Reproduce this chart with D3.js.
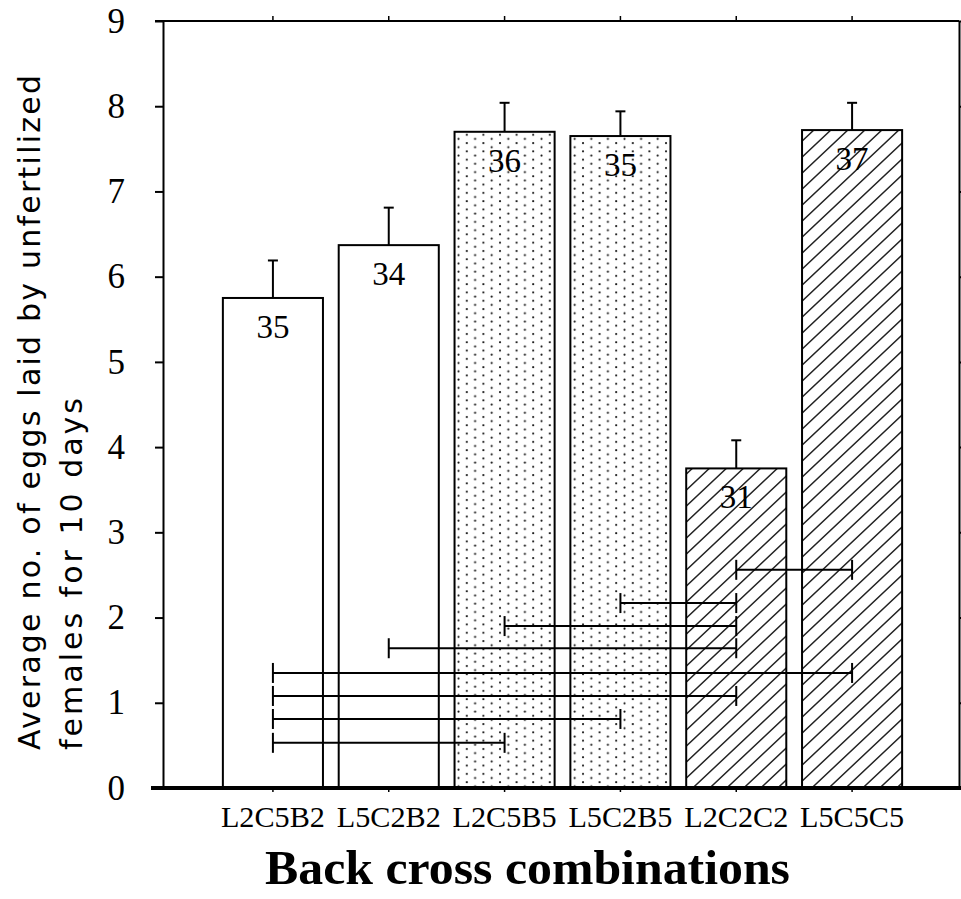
<!DOCTYPE html>
<html>
<head>
<meta charset="utf-8">
<script src="https://cdn.jsdelivr.net/npm/d3@7"></script>
<style>
  body { margin: 0; background: #fff; }
  svg { display: block; }
</style>
</head>
<body>
<div id="chart"></div>
<script>
// data
const categories = ["L2C5B2", "L5C2B2", "L2C5B5", "L5C2B5", "L2C2C2", "L5C5C5"];
const means = [5.75, 6.37, 7.70, 7.65, 3.75, 7.72];
const stdErr = [0.44, 0.44, 0.34, 0.29, 0.33, 0.32];
const sampleSizes = [35, 34, 36, 35, 31, 37];
const yTicks = [0, 1, 2, 3, 4, 5, 6, 7, 8, 9];

// comparison lines drawn at the bottom of the plot
const pairFrom = ["L2C2C2", "L5C2B5", "L2C5B5", "L5C2B2", "L2C5B2", "L2C5B2", "L2C5B2", "L2C5B2"];
const pairTo   = ["L5C5C5", "L2C2C2", "L2C2C2", "L2C2C2", "L5C5C5", "L2C2C2", "L5C2B5", "L2C5B5"];
const pairLevel = [2.56, 2.17, 1.90, 1.64, 1.35, 1.08, 0.81, 0.53];

const w = 961, h = 899;
const plotTop = 21, plotBottom = 788, plotLeft = 163, plotRight = 959;

// which fill each bar gets
const fillFor = {
    L2C5B2: "#fff", L5C2B2: "#fff",
    L2C5B5: "url(#dots)", L5C2B5: "url(#dots)",
    L2C2C2: "url(#hatch)", L5C5C5: "url(#hatch)"
};

const svg = d3.select("#chart").append("svg")
    .attr("width", w)
    .attr("height", h);

const defs = svg.append("defs");
const dots = defs.append("pattern")
    .attr("id", "dots")
    .attr("patternUnits", "userSpaceOnUse")
    .attr("width", 16.6)
    .attr("height", 8.3);
dots.append("rect").attr("width", 16.6).attr("height", 8.3).attr("fill", "#fff");
dots.append("circle").attr("cx", 2).attr("cy", 2).attr("r", 1.05).attr("fill", "#111");
dots.append("circle").attr("cx", 10.3).attr("cy", 6.15).attr("r", 1.05).attr("fill", "#111");

const hatch = defs.append("pattern")
    .attr("id", "hatch")
    .attr("patternUnits", "userSpaceOnUse")
    .attr("width", 17)
    .attr("height", 16);
hatch.append("rect").attr("width", 17).attr("height", 16).attr("fill", "#fff");
hatch.append("path")
    .attr("d", "M0,16 L17,0 M-2,2 L2,-2 M15,18 L19,14")
    .attr("stroke", "#222")
    .attr("stroke-width", 1.5);

const x = d3.scaleBand()
    .domain(categories)
    .range([215, 910])
    .paddingInner(0.136)
    .paddingOuter(0.068);

const y = d3.scaleLinear()
    .domain([0, 9])
    .range([plotBottom, plotTop]);

const cx = c => x(c) + x.bandwidth() / 2;

// frame: top and right
svg.append("g")
    .attr("transform", `translate(0,${plotTop})`)
    .call(d3.axisTop(x).tickSize(5).tickSizeOuter(0).tickFormat(""))
    .call(g => g.select(".domain").remove())
    .call(g => g.selectAll("line").attr("stroke-width", 1.5));
svg.append("line")
    .attr("x1", 155).attr("x2", plotRight)
    .attr("y1", plotTop).attr("y2", plotTop)
    .attr("stroke", "#000").attr("stroke-width", 2);
svg.append("g")
    .attr("transform", `translate(${plotRight},0)`)
    .call(d3.axisRight(y).tickValues(yTicks).tickSize(4).tickSizeOuter(0).tickFormat(""))
    .call(g => g.selectAll("path, line").attr("stroke-width", 2));

// left axis
svg.append("g")
    .attr("transform", `translate(${plotLeft},0)`)
    .call(d3.axisLeft(y).tickValues(yTicks).tickSize(8).tickSizeOuter(0).tickPadding(30))
    .call(g => g.selectAll("path, line").attr("stroke-width", 2))
    .call(g => g.selectAll("text")
        .attr("font-family", "'Liberation Serif', serif")
        .attr("font-size", 35)
        .attr("fill", "#000"));

// bars
svg.selectAll("rect.bar")
    .data(categories)
    .enter()
    .append("rect")
    .attr("class", "bar")
    .attr("x", d => x(d))
    .attr("y", (d, i) => y(means[i]))
    .attr("width", x.bandwidth())
    .attr("height", (d, i) => y(0) - y(means[i]))
    .attr("fill", d => fillFor[d])
    .attr("stroke", "#000")
    .attr("stroke-width", 2);

// error bars
const err = svg.selectAll("g.err")
    .data(categories)
    .enter()
    .append("g")
    .attr("class", "err")
    .attr("stroke", "#000")
    .attr("stroke-width", 2);
err.append("line")
    .attr("x1", d => cx(d)).attr("x2", d => cx(d))
    .attr("y1", (d, i) => y(means[i]))
    .attr("y2", (d, i) => y(means[i] + stdErr[i]));
err.append("line")
    .attr("x1", d => cx(d) - 5).attr("x2", d => cx(d) + 5)
    .attr("y1", (d, i) => y(means[i] + stdErr[i]))
    .attr("y2", (d, i) => y(means[i] + stdErr[i]));

// n labels inside bars
svg.selectAll("text.n")
    .data(categories)
    .enter()
    .append("text")
    .attr("class", "n")
    .attr("x", d => cx(d))
    .attr("y", (d, i) => y(means[i]) + 40)
    .attr("text-anchor", "middle")
    .attr("font-family", "'Liberation Serif', serif")
    .attr("font-size", 33)
    .text((d, i) => sampleSizes[i]);

// comparison lines
const pairs = svg.append("g")
    .attr("stroke", "#000")
    .attr("stroke-width", 2);
pairLevel.forEach((v, i) => {
    const x1 = cx(pairFrom[i]), x2 = cx(pairTo[i]), yy = y(v);
    pairs.append("line").attr("x1", x1).attr("x2", x2).attr("y1", yy).attr("y2", yy);
    pairs.append("line").attr("x1", x1).attr("x2", x1).attr("y1", yy - 10).attr("y2", yy + 10);
    pairs.append("line").attr("x1", x2).attr("x2", x2).attr("y1", yy - 10).attr("y2", yy + 10);
});

// bottom axis
svg.append("g")
    .attr("transform", `translate(0,${plotBottom})`)
    .call(d3.axisBottom(x).tickSize(4).tickSizeOuter(0).tickPadding(14))
    .call(g => g.select(".domain").remove())
    .call(g => g.selectAll("line").attr("stroke-width", 1.5))
    .call(g => g.selectAll("text")
        .attr("font-family", "'Liberation Serif', serif")
        .attr("font-size", 30)
        .attr("fill", "#000")
        .attr("textLength", 104)
        .attr("lengthAdjust", "spacingAndGlyphs"));
svg.append("line")
    .attr("x1", 151).attr("x2", w)
    .attr("y1", plotBottom).attr("y2", plotBottom)
    .attr("stroke", "#000").attr("stroke-width", 4);

// axis titles
svg.append("text")
    .attr("x", 265)
    .attr("y", 884)
    .attr("font-family", "'Liberation Serif', serif")
    .attr("font-weight", "bold")
    .attr("font-size", 48)
    .attr("textLength", 525)
    .attr("lengthAdjust", "spacingAndGlyphs")
    .text("Back cross combinations");

svg.append("text")
    .attr("transform", "translate(40,750) rotate(-90)")
    .attr("font-family", "'DejaVu Sans', sans-serif")
    .attr("font-size", 30)
    .attr("textLength", 675)
    .attr("lengthAdjust", "spacing")
    .text("Average no. of eggs laid by unfertilized");

svg.append("text")
    .attr("transform", "translate(82,750) rotate(-90)")
    .attr("font-family", "'DejaVu Sans', sans-serif")
    .attr("font-size", 30)
    .attr("textLength", 352)
    .attr("lengthAdjust", "spacing")
    .text("females for 10 days");
</script>
</body>
</html>
